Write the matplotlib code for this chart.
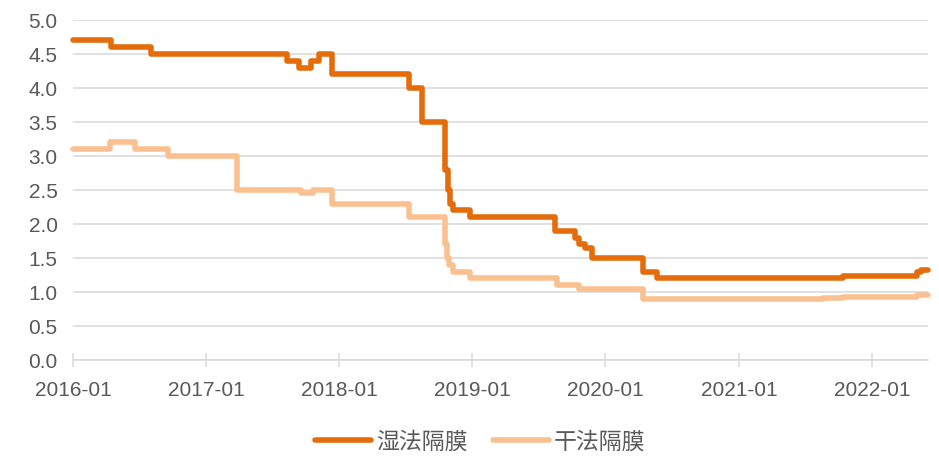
import matplotlib
matplotlib.use("Agg")
import matplotlib.pyplot as plt
import matplotlib.dates as mdates
import numpy as np
import pandas as pd

# Step-change dates and values (values hold until next date)
wet_dates = ["2016-01-01", "2016-04-15", "2016-08-01", "2017-08-10", "2017-09-12",
             "2017-10-15", "2017-11-05", "2017-12-13", "2018-07-10", "2018-08-15",
             "2018-10-18", "2018-10-25", "2018-11-01", "2018-11-08", "2018-12-25",
             "2019-08-15", "2019-10-10", "2019-10-20", "2019-11-05", "2019-11-25",
             "2020-04-13", "2020-05-22", "2021-08-20", "2021-10-15", "2022-05-05",
             "2022-05-15", "2022-06-03"]
wet_values = [4.7, 4.6, 4.5, 4.4, 4.3,
              4.4, 4.5, 4.2, 4.0, 3.5,
              2.8, 2.5, 2.3, 2.2, 2.1,
              1.9, 1.8, 1.7, 1.65, 1.5,
              1.3, 1.2, 1.21, 1.23, 1.3,
              1.33, 1.33]

dry_dates = ["2016-01-01", "2016-04-12", "2016-06-20", "2016-09-18", "2017-03-25",
             "2017-09-18", "2017-10-20", "2017-12-13", "2018-07-12", "2018-10-18",
             "2018-10-22", "2018-10-30", "2018-11-08", "2018-12-25", "2019-08-20",
             "2019-10-20", "2020-04-13", "2021-08-20", "2021-10-15", "2022-05-05",
             "2022-06-03"]
dry_values = [3.1, 3.2, 3.1, 3.0, 2.5,
              2.45, 2.5, 2.3, 2.1, 1.7,
              1.5, 1.4, 1.3, 1.2, 1.1,
              1.05, 0.9, 0.91, 0.93, 0.95,
              0.95]

series_names = ["湿法隔膜", "干法隔膜"]
x_ticks = ["2016-01-01", "2017-01-01", "2018-01-01", "2019-01-01",
           "2020-01-01", "2021-01-01", "2022-01-01"]
x_tick_labels = ["2016-01", "2017-01", "2018-01", "2019-01", "2020-01", "2021-01", "2022-01"]
y_ticks = [0.0, 0.5, 1.0, 1.5, 2.0, 2.5, 3.0, 3.5, 4.0, 4.5, 5.0]

wet_color = "#E46C0A"
dry_color = "#FAC090"
grid_color = "#D9D9D9"
text_color = "#595959"

fig = plt.figure(figsize=(9.39, 4.58), dpi=100)
ax = fig.add_axes([73/939, 98/458, (928-73)/939, 340/458])

wd = pd.to_datetime(wet_dates)
dd = pd.to_datetime(dry_dates)
ax.plot(wd, wet_values, drawstyle="steps-post", color=wet_color, lw=4.0,
        solid_joinstyle="round", solid_capstyle="round", label=series_names[0],
        zorder=4, clip_on=False)
ax.plot(dd, dry_values, drawstyle="steps-post", color=dry_color, lw=4.0,
        solid_joinstyle="round", solid_capstyle="round", label=series_names[1],
        zorder=3, clip_on=False)

ax.set_ylim(0, 5.0)
ax.set_xlim(pd.Timestamp("2016-01-01"), pd.Timestamp("2022-06-04"))
ax.set_yticks(y_ticks)
ax.set_yticklabels([f"{v:.1f}" for v in y_ticks])
ax.set_xticks(pd.to_datetime(x_ticks))
ax.set_xticklabels(x_tick_labels)

ax.yaxis.grid(True, color=grid_color, lw=1.1)
ax.set_axisbelow(True)
for s in ["top", "right", "left"]:
    ax.spines[s].set_visible(False)
ax.spines["bottom"].set_color(grid_color)
ax.spines["bottom"].set_linewidth(1.1)

ax.tick_params(axis="y", length=0, pad=11, labelsize=15, labelcolor=text_color)
ax.tick_params(axis="x", direction="inout", length=10, width=1.1, color=grid_color,
               pad=10, labelsize=15, labelcolor=text_color)
for lbl in ax.get_xticklabels() + ax.get_yticklabels():
    lbl.set_fontfamily("Liberation Sans")

leg = fig.legend(loc="center", bbox_to_anchor=(480/939, (458-442)/458), ncol=2,
                 frameon=False, handlelength=2.45, handletextpad=0.2, columnspacing=1.1,
                 prop={"family": ["Noto Sans CJK SC", "DejaVu Sans"], "size": 16.5})
for t in leg.get_texts():
    t.set_color(text_color)

fig.savefig("out.png", dpi=100)
